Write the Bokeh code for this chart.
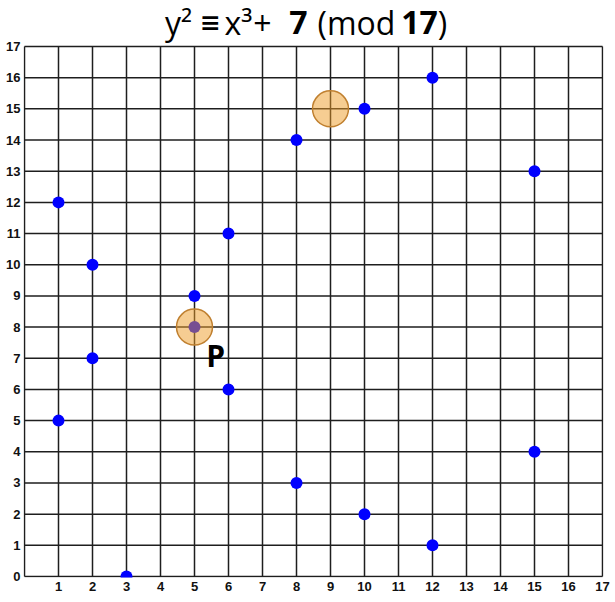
from bokeh.plotting import figure
from bokeh.models import FixedTicker, ColumnDataSource
from bokeh.core.properties import value
from bokeh.embed import file_html
from bokeh.resources import INLINE

# curve points of y^2 = x^3 + 7 (mod 17)
pts_x = [1, 1, 2, 2, 3, 5, 5, 6, 6, 8, 8, 10, 10, 12, 12, 15, 15]
pts_y = [5, 12, 7, 10, 0, 8, 9, 6, 11, 3, 14, 2, 15, 1, 16, 4, 13]
# highlighted points
hl_x = [5, 9]
hl_y = [8, 15]
x_ticks = list(range(1, 18))
y_ticks = list(range(0, 18))
grid_ticks = list(range(0, 18))
title_parts = ["y²", "≡", "x³", "+", "7", "(mod", "17", ")"]
title_bold = [False, True, False, False, True, False, True, False]
point_label = ["P"]
point_label_x = [5.62]
point_label_y = [7.10]

# layout (picture pixels)
FIG_W, FIG_H = 615, 602
GL, GR, GT, GB = 24, 602, 46, 576          # grid box
ux = (GR - GL) / 17.0
uy = (GB - GT) / 17.0
x0 = -1.0 / ux
x1 = 17 + 1.0 / ux
y0 = -1.0 / uy
y1 = 17 + GT / uy

p = figure(width=FIG_W, height=FIG_H, x_range=(x0, x1), y_range=(y0, y1),
           output_backend="svg", toolbar_location=None,
           min_border_left=GL - 1, min_border_right=FIG_W - (GR + 1),
           min_border_top=0, min_border_bottom=FIG_H - (GB + 1))
p.background_fill_color = "white"
p.border_fill_color = "white"
p.outline_line_color = None
p.xgrid.visible = False
p.ygrid.visible = False

p.xaxis.ticker = FixedTicker(ticks=x_ticks)
p.yaxis.ticker = FixedTicker(ticks=y_ticks)
for ax in (p.xaxis, p.yaxis):
    ax.major_tick_line_color = None
    ax.minor_tick_line_color = None
    ax.major_tick_out = 0
    ax.major_tick_in = 0
    ax.minor_tick_out = 0
    ax.axis_line_color = None
    ax.major_label_text_font = "Liberation Sans"
    ax.major_label_text_font_style = "bold"
    ax.major_label_text_font_size = "13px"
    ax.major_label_text_color = "#111111"
p.xaxis.major_label_standoff = 4
p.yaxis.major_label_standoff = 3

# grid drawn as segments through the data scales
n = len(grid_ticks)
p.segment(x0=grid_ticks, y0=[0] * n, x1=grid_ticks, y1=[17] * n,
          line_color="#1e1e1e", line_width=1.5)
p.segment(x0=[0] * n, y0=grid_ticks, x1=[17] * n, y1=grid_ticks,
          line_color="#1e1e1e", line_width=1.5)

p.scatter(pts_x, pts_y, size=12, color="#0000ff", line_color=None)
p.scatter(hl_x, hl_y, size=36, fill_color="#ED9C25", fill_alpha=0.5,
          line_color="#c08030", line_width=1.5)
p.text(x=point_label_x, y=point_label_y, text=point_label,
       text_font=value("Open Sans"), text_font_style="bold",
       text_font_size="30px", text_align="center",
       text_baseline="middle", text_color="black")

# title, placed above the grid in the same frame
centers_px = [178, 210, 238, 262, 298, 356, 419, 442]
mid_px = 22
tsrc = ColumnDataSource(dict(
    x=[(c - GL) / ux for c in centers_px],
    y=[17 + (GT - mid_px) / uy] * len(title_parts),
    text=title_parts,
    style=["bold" if b else "normal" for b in title_bold],
    font=["DejaVu Sans" if s == "≡" else "Open Sans" for s in title_parts],
    size=["25px" if s == "≡" else "32px" for s in title_parts],
))
p.text(x="x", y="y", text="text", source=tsrc, text_font="font",
       text_font_style="style", text_font_size="size", text_align="center",
       text_baseline="middle", text_color="black")

open("out.html", "w").write(file_html(p, INLINE))
